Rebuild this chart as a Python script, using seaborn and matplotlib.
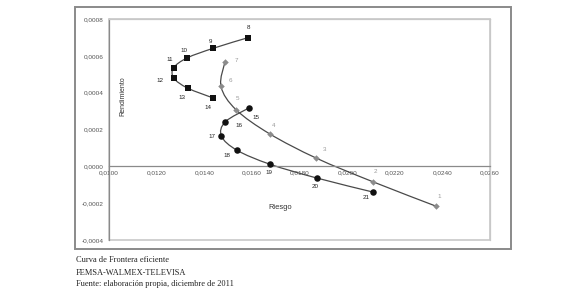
import numpy as np
import pandas as pd
import matplotlib
matplotlib.use("Agg")
import matplotlib.pyplot as plt
import seaborn as sns
from matplotlib.path import Path
from matplotlib.patches import PathPatch, Rectangle
from matplotlib.ticker import FuncFormatter

# portfolio points (riesgo, rendimiento)
gray_ids = [1, 2, 3, 4, 5, 6, 7]
gray_risk = [0.02373, 0.02107, 0.01870, 0.01674, 0.01533, 0.01470, 0.01487]
gray_ret = [-0.000216, -0.000083, 0.000045, 0.000177, 0.000308, 0.000434, 0.000569]

square_ids = [8, 9, 10, 11, 12, 13, 14]
square_risk = [0.01584, 0.01437, 0.01328, 0.01271, 0.01272, 0.01330, 0.01438]
square_ret = [0.000699, 0.000641, 0.000589, 0.000535, 0.000479, 0.000425, 0.000371]

circle_ids = [15, 16, 17, 18, 19, 20, 21]
circle_risk = [0.01587, 0.01488, 0.01472, 0.01538, 0.01675, 0.01872, 0.02107]
circle_ret = [0.000317, 0.000242, 0.000164, 0.000087, 0.000012, -0.000063, -0.000139]

x_ticks = [0.0100, 0.0120, 0.0140, 0.0160, 0.0180, 0.0200, 0.0220, 0.0240, 0.0260]
y_ticks = [-0.0004, -0.0002, 0.0000, 0.0002, 0.0004, 0.0006, 0.0008]

caption = ["Curva de Frontera eficiente",
           "FEMSA-WALMEX-TELEVISA",
           "Fuente: elaboración propia, diciembre de 2011"]

# label offsets in points (dx, dy)
gray_off = [(2, 7), (2, 7), (6, 6), (3, 6), (1, 8), (7, 4), (8, 1)]
square_off = [(0, 7), (-2, 5), (-2, 5), (-3, 6), (-10, -2), (-4, -7), (-4, -7)]
circle_off = [(5, -7), (10, -3), (-7, 0), (-7, -4), (-1, -6), (-1, -6), (-5, -4)]

sns.set_style("white")
plt.rcParams['font.family'] = ['Liberation Sans', 'DejaVu Sans']

fig = plt.figure(figsize=(5.8, 3.07), dpi=100)
ax = fig.add_axes([0.188, 0.218, 0.657, 0.72])


def smooth_path(xs, ys):
    # Catmull-Rom style smoothed line drawn as bezier segments
    p = np.column_stack([xs, ys])
    n = len(p)
    verts = [p[0]]
    codes = [Path.MOVETO]
    for i in range(n - 1):
        p0 = p[i - 1] if i > 0 else p[i]
        p3 = p[i + 2] if i + 2 < n else p[i + 1]
        c1 = p[i] + (p[i + 1] - p0) / 6
        c2 = p[i + 1] - (p3 - p[i]) / 6
        verts += [c1, c2, p[i + 1]]
        codes += [Path.CURVE4] * 3
    return Path(verts, codes)


line_col = "#4a4a4a"
for xs, ys in [(gray_risk, gray_ret), (square_risk, square_ret), (circle_risk, circle_ret)]:
    ax.add_patch(PathPatch(smooth_path(xs, ys), fill=False, ec=line_col, lw=0.9, zorder=2))

df = pd.concat([
    pd.DataFrame({"id": gray_ids, "riesgo": gray_risk, "rend": gray_ret, "serie": "g"}),
    pd.DataFrame({"id": square_ids, "riesgo": square_risk, "rend": square_ret, "serie": "s"}),
    pd.DataFrame({"id": circle_ids, "riesgo": circle_risk, "rend": circle_ret, "serie": "c"}),
])

sns.scatterplot(data=df[df.serie == "g"], x="riesgo", y="rend", marker="D", s=11,
                color="#8c8c8c", edgecolor="#8c8c8c", linewidth=0, ax=ax, zorder=3)
sns.scatterplot(data=df[df.serie == "s"], x="riesgo", y="rend", marker="s", s=19,
                color="#111111", edgecolor="#111111", linewidth=0, ax=ax, zorder=3)
sns.scatterplot(data=df[df.serie == "c"], x="riesgo", y="rend", marker="o", s=22,
                color="#111111", edgecolor="#111111", linewidth=0, ax=ax, zorder=3)

for ids, xs, ys, offs, col in [(gray_ids, gray_risk, gray_ret, gray_off, "#9a9a9a"),
                               (square_ids, square_risk, square_ret, square_off, "#222222"),
                               (circle_ids, circle_risk, circle_ret, circle_off, "#222222")]:
    for i, x, y, o in zip(ids, xs, ys, offs):
        ax.annotate(str(i), (x, y), xytext=o, textcoords="offset points",
                    ha="center", va="center", fontsize=4.5, color=col)

ax.set_xlim(x_ticks[0], x_ticks[-1])
ax.set_ylim(y_ticks[0], y_ticks[-1])
ax.set_xticks(x_ticks)
ax.set_yticks(y_ticks)
fmt = FuncFormatter(lambda v, pos: f"{v:.4f}".replace(".", ",").replace("-0,0000", "0,0000"))
ax.xaxis.set_major_formatter(fmt)
ax.yaxis.set_major_formatter(fmt)

ax.spines['bottom'].set_position(('data', 0))
for s in ['top', 'right']:
    ax.spines[s].set_color("#c8c8c8")
ax.spines['left'].set_color("#8a8a8a")
ax.spines['bottom'].set_color("#8a8a8a")
for s in ax.spines.values():
    s.set_linewidth(0.9)
ax.add_patch(Rectangle((0, 0), 1, 1, transform=ax.transAxes, fill=False,
                       ec="#c8c8c8", lw=1.2, zorder=0, clip_on=False))

ax.tick_params(axis="both", labelsize=4.6, labelcolor="#555555", colors="#777777",
               length=2, width=0.6, pad=1.8)
ax.tick_params(axis="x", direction="inout", length=2.5)

ax.set_xlabel("Riesgo", fontsize=5.4, color="#333333")
ax.xaxis.set_label_coords(0.449, 0.163)
ax.set_ylabel("Rendimiento", fontsize=5.0, color="#333333", va="center")
ax.yaxis.set_label_coords(0.037, 0.652)

fig.add_artist(Rectangle((0.129, 0.189), 0.752, 0.788, transform=fig.transFigure,
                         fill=False, ec="#8a8a8a", lw=1.4))

for txt, yy in zip(caption, [0.153, 0.110, 0.074]):
    fig.text(0.131, yy, txt, fontsize=6.0, family=["Liberation Serif", "DejaVu Serif"],
             color="#222222", va="center", ha="left")

fig.savefig("out.png", dpi=100)
